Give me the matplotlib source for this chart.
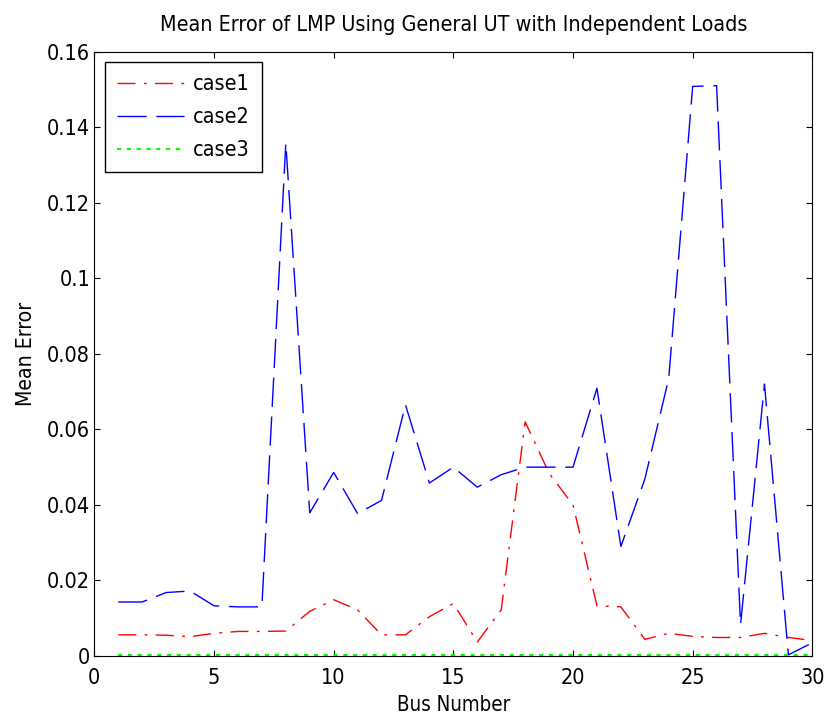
import matplotlib
matplotlib.use('Agg')
import matplotlib.pyplot as plt
from matplotlib.ticker import FuncFormatter

# bus numbers and mean error per case
bus = list(range(1, 31))
case1 = [0.0056, 0.0056, 0.0055, 0.0051, 0.0060, 0.0065, 0.0065, 0.0066, 0.0118, 0.0149,
         0.0122, 0.0056, 0.0056, 0.0104, 0.0139, 0.0037, 0.0122, 0.0620, 0.0484, 0.0400,
         0.0133, 0.0130, 0.0044, 0.0060, 0.0052, 0.0049, 0.0049, 0.0060, 0.0049, 0.0041]
case2 = [0.0143, 0.0143, 0.0168, 0.0172, 0.0133, 0.0130, 0.0130, 0.1358, 0.0379, 0.0486,
         0.0377, 0.0412, 0.0665, 0.0458, 0.0500, 0.0447, 0.0480, 0.0500, 0.0500, 0.0500,
         0.0709, 0.0290, 0.0468, 0.0735, 0.1508, 0.1510, 0.0083, 0.0720, 0.0003, 0.0035]
case3 = [0.0002, 0.0002, 0.0002, 0.0002, 0.0002, 0.0002, 0.0002, 0.0002, 0.0002, 0.0002,
         0.0002, 0.0002, 0.0002, 0.0002, 0.0002, 0.0002, 0.0002, 0.0002, 0.0002, 0.0002,
         0.0002, 0.0002, 0.0002, 0.0002, 0.0002, 0.0002, 0.0002, 0.0002, 0.0002, 0.0002]
labels = ['case1', 'case2', 'case3']

# MATLAB-ish look: condensed sans
plt.rcParams['font.family'] = ['DejaVu Sans']
plt.rcParams['font.stretch'] = 'condensed'

fig = plt.figure(figsize=(8.29, 7.17), dpi=100)
ax = fig.add_axes([0.1138, 0.0851, 0.8661, 0.8428])

ax.plot(bus, case1, color='red', lw=1.0, linestyle=(0, (13, 6, 2, 6)), label=labels[0])
ax.plot(bus, case2, color='blue', lw=1.0, linestyle=(0, (21, 7)), label=labels[1])
ax.plot(bus, case3, color='#00ff00', lw=1.5, linestyle=(0, (2, 2.7)), label=labels[2])

ax.set_xlim(0, 30)
ax.set_ylim(0, 0.16)
ax.set_xticks(range(0, 31, 5))
ax.set_yticks([0, 0.02, 0.04, 0.06, 0.08, 0.1, 0.12, 0.14, 0.16])
ax.yaxis.set_major_formatter(FuncFormatter(lambda v, p: '%g' % v))
ax.tick_params(direction='in', top=True, right=True, length=4, width=0.8, labelsize=15.5)
ax.tick_params(axis='x', pad=9)
ax.tick_params(axis='y', pad=3)

ax.set_title('Mean Error of LMP Using General UT with Independent Loads', fontsize=15.4, pad=15)
ax.set_xlabel('Bus Number', fontsize=14.8, labelpad=5)
ax.set_ylabel('Mean Error', fontsize=15.2, labelpad=8)

leg = ax.legend(loc='upper left', fontsize=15.5, fancybox=False, framealpha=1,
                edgecolor='black', handlelength=3.1, handletextpad=0.45,
                labelspacing=0.6, borderaxespad=0.5, borderpad=0.55)
leg.get_frame().set_linewidth(1.0)

fig.savefig('out.png', dpi=100)
